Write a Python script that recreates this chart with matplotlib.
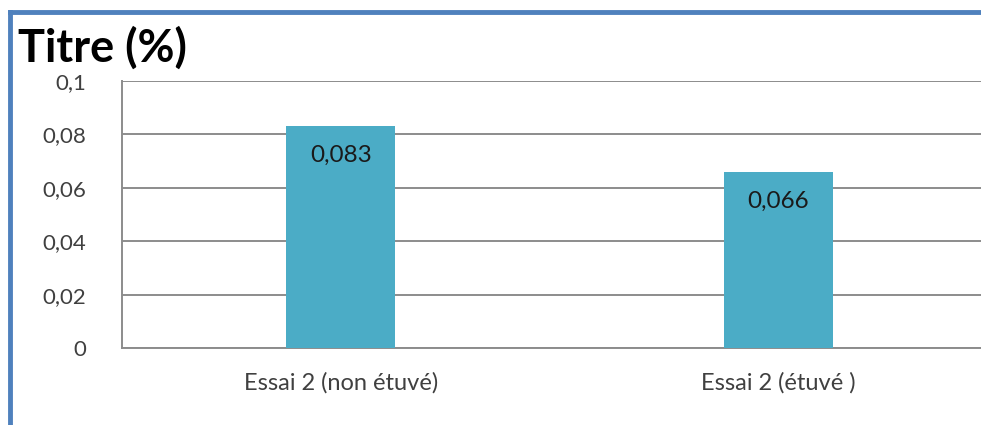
import matplotlib
matplotlib.use("Agg")
import matplotlib.pyplot as plt
from matplotlib.lines import Line2D

plt.rcParams['font.family'] = ['Lato', 'DejaVu Sans']

categories = ["Essai 2 (non étuvé)", "Essai 2 (étuvé )"]
values = [0.083, 0.066]
value_labels = ["0,083", "0,066"]
yticks = [0, 0.02, 0.04, 0.06, 0.08, 0.1]
ytick_labels = ["0", "0,02", "0,04", "0,06", "0,08", "0,1"]
title = "Titre (%)"

W, H = 981, 425
fig = plt.figure(figsize=(W / 100, H / 100), dpi=100)

# plot area in pixels (extends past the right edge of the figure)
left, top, right, bottom = 122, 81, 997, 348
ax = fig.add_axes([left / W, 1 - bottom / H, (right - left) / W, (bottom - top) / H])

bar_color = "#4BACC6"
grid_color = "#8C8C8C"
text_color = "#404040"

x = list(range(len(categories)))
ax.bar(x, values, width=0.25, color=bar_color, zorder=3)
ax.set_xlim(-0.5, len(categories) - 0.5)
ax.set_ylim(0, 0.1)

ax.set_yticks(yticks)
ax.set_yticklabels(ytick_labels)
ax.set_xticks(x)
ax.set_xticklabels(categories)
ax.tick_params(axis='y', length=0, pad=26, labelsize=16, labelcolor=text_color)
ax.tick_params(axis='x', length=0, pad=17, labelsize=17, labelcolor=text_color)

ax.yaxis.grid(True, color=grid_color, linewidth=1.4, zorder=0)
ax.set_axisbelow(True)
for side in ("top", "right"):
    ax.spines[side].set_visible(False)
for side in ("left", "bottom"):
    ax.spines[side].set_color(grid_color)
    ax.spines[side].set_linewidth(1.4)

for xi, v, lab in zip(x, values, value_labels):
    ax.annotate(lab, (xi, v), xytext=(0, -21), textcoords="offset points",
                ha="center", va="center", fontsize=17.5, color="#1A1A1A", zorder=4)

fig.text(18 / W, 1 - 48 / H, title, fontsize=32.5, fontweight="bold",
         color="#000000", ha="left", va="center")

# blue frame along the top and left edges
frame_color = "#4F81BD"
fig.add_artist(Line2D([10 / W, 1], [1 - 12 / H, 1 - 12 / H], color=frame_color,
                      linewidth=3.5, transform=fig.transFigure))
fig.add_artist(Line2D([10 / W, 10 / W], [0, 1 - 12 / H], color=frame_color,
                      linewidth=3.5, transform=fig.transFigure))

fig.savefig("out.png", dpi=100)
